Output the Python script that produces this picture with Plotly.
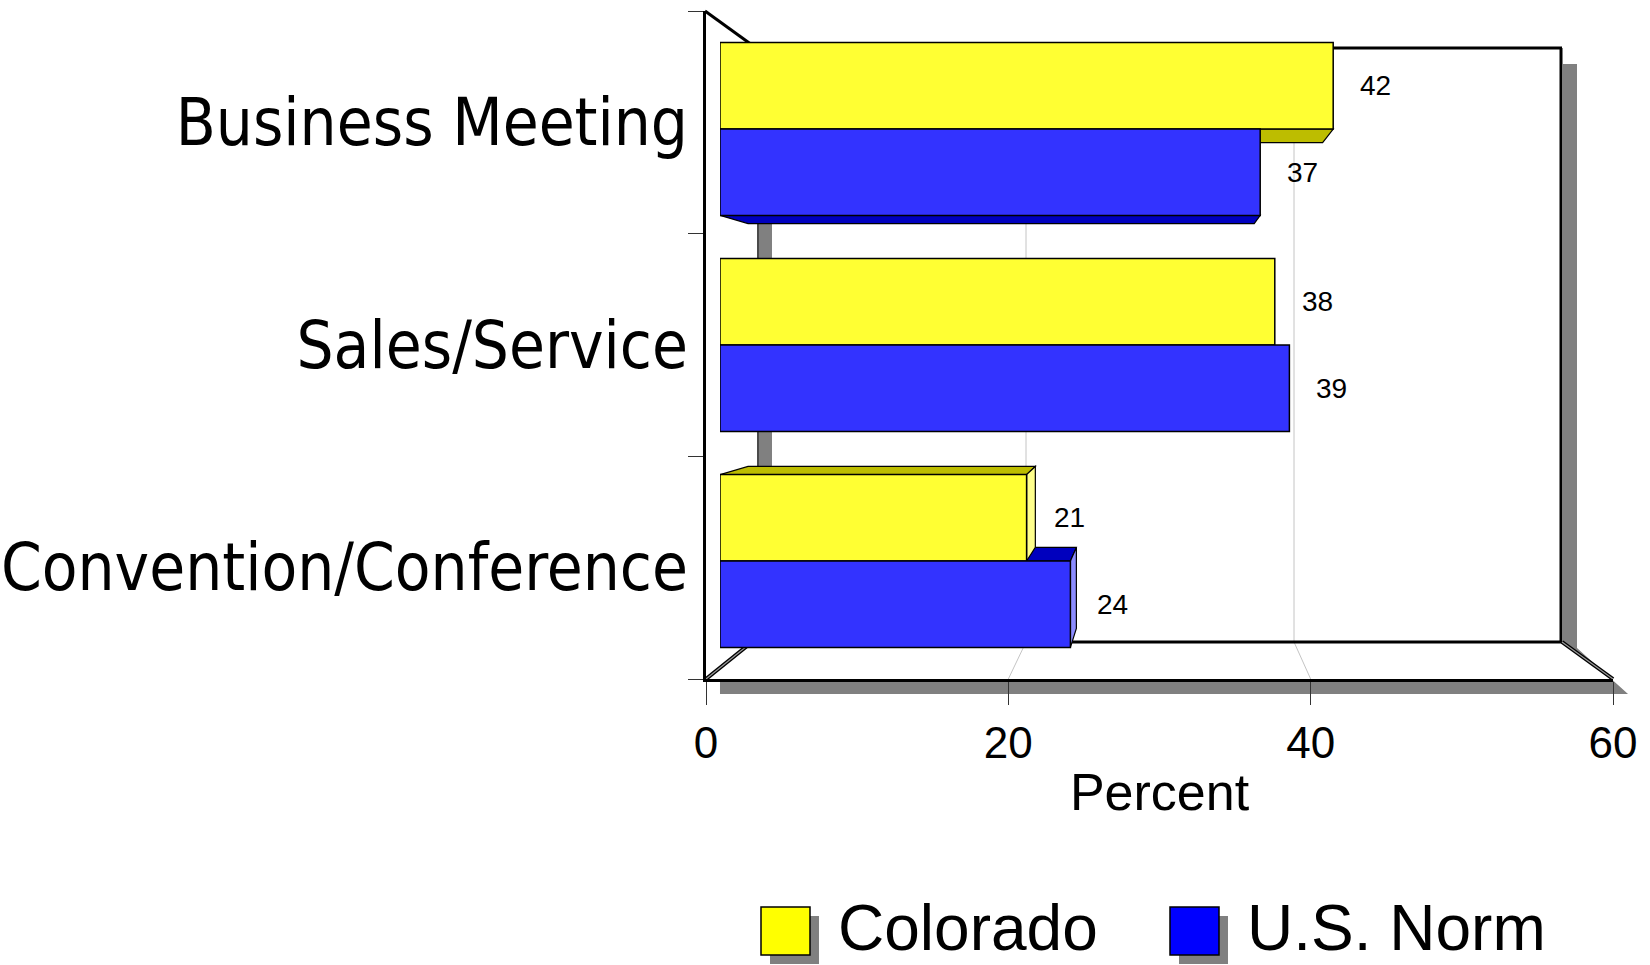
import plotly.graph_objects as go

# ---- data -------------------------------------------------------------
categories = ["Business Meeting", "Sales/Service", "Convention/Conference"]
colorado = [42, 38, 21]
us_norm = [37, 39, 24]
series_names = ["Colorado", "U.S. Norm"]
axis_ticks = [0, 20, 40, 60]
axis_title = "Percent"

# ---- page geometry (pixels) ------------------------------------------
W, H = 1650, 965


def px(x):
    return x / W


def py(y):
    return 1 - y / H


cat_pos = list(range(len(categories)))

# bar plane: value 0 at x=720, 14.6 px per unit; category rows 216 px apart
BAR_X0, BAR_SCALE = 720, 14.6
BAR_Y_TOP, BAR_Y_BOT = 21, 669
# front frame (axis plane) and back wall
FRONT_X0, FRONT_X60 = 706, 1613
BACK_X0, BACK_X60 = 758, 1562
FRONT_Y, BACK_TOP, BACK_BOTTOM = 679, 48, 642
FRONT_TOP = 11

# perspective for bar depth faces (data coordinates)
VP = (30.5, 1.0)
DEPTH = 0.063

YELLOW, YELLOW_DARK, YELLOW_LIGHT = "#FFFF33", "#BDBD00", "#FFFF8C"
BLUE, BLUE_DARK, BLUE_LIGHT = "#3333FF", "#0000BE", "#8C8CFF"
SHADOW = "#808080"
GRID = "#C4C4C4"

fig = go.Figure()

# front bar faces
fig.add_trace(go.Bar(
    y=cat_pos, x=colorado, orientation="h", width=0.4, offset=-0.4,
    name=series_names[0], showlegend=False,
    marker=dict(color=YELLOW, line=dict(color="black", width=1.5)),
    hoverinfo="x+name", xaxis="x", yaxis="y",
))
fig.add_trace(go.Bar(
    y=cat_pos, x=us_norm, orientation="h", width=0.4, offset=0.0,
    name=series_names[1], showlegend=False,
    marker=dict(color=BLUE, line=dict(color="black", width=1.5)),
    hoverinfo="x+name", xaxis="x", yaxis="y",
))
# carrier trace for the front frame axes
fig.add_trace(go.Scatter(
    x=[0, 60], y=[0, 3], mode="markers", marker=dict(opacity=0),
    hoverinfo="skip", showlegend=False, xaxis="x2", yaxis="y2",
))


def paper_line(x0, y0, x1, y1, color="black", width=3):
    fig.add_shape(type="line", xref="paper", yref="paper",
                  x0=px(x0), y0=py(y0), x1=px(x1), y1=py(y1),
                  line=dict(color=color, width=width), layer="below")


def paper_poly(points, fill, line_color=None, width=0, layer="below"):
    path = "M " + " L ".join(f"{px(x):.5f},{py(y):.5f}" for x, y in points) + " Z"
    fig.add_shape(type="path", xref="paper", yref="paper", path=path,
                  fillcolor=fill, line=dict(color=line_color or fill, width=width),
                  layer=layer)


def front_x(v):
    return FRONT_X0 + v * (FRONT_X60 - FRONT_X0) / 60


def back_x(v):
    return BACK_X0 + v * (BACK_X60 - BACK_X0) / 60


# drop shadow of the frame
paper_poly([(1563, 64), (1577, 64), (1577, 648), (1628, 694), (720, 694),
            (720, 681), (1613, 681), (1563, 643)], SHADOW)
# shadow of the side wall on the back wall
paper_poly([(757, 64), (772, 64), (772, BACK_BOTTOM), (757, BACK_BOTTOM)], SHADOW)
paper_line(758, 64, 758, BACK_BOTTOM, "#4a4a4a", 2)

# gridlines: up the back wall, then across the floor to the front tick
for v in axis_ticks[1:-1]:
    paper_line(back_x(v), BACK_TOP, back_x(v), BACK_BOTTOM, GRID, 1)
    paper_line(back_x(v), BACK_BOTTOM, front_x(v), FRONT_Y, GRID, 1)

# back wall and floor edges
paper_line(BACK_X0 - 6, BACK_TOP, BACK_X60, BACK_TOP, "black", 3)
paper_line(BACK_X60 - 1, BACK_TOP, BACK_X60 - 1, BACK_BOTTOM, "black", 3)
paper_line(BACK_X0 - 6, BACK_BOTTOM, BACK_X60, BACK_BOTTOM, "black", 3)
for (xa, ya, xb, yb) in [(BACK_X60, BACK_BOTTOM, FRONT_X60, FRONT_Y),
                         (FRONT_X0, FRONT_Y, BACK_X0 - 6, BACK_BOTTOM)]:
    paper_line(xa, ya, xb, yb, "black", 4)
    paper_line(xa, ya, xb, yb, "#9a9a9a", 1.2)
# side wall top edge
paper_line(FRONT_X0 - 1, FRONT_TOP, BACK_X0 - 6, BACK_TOP - 3, "black", 3)


# depth faces of the bars, projected toward the vanishing point
def back_pt(x, y):
    return (x + DEPTH * (VP[0] - x), y + DEPTH * (VP[1] - y))


def data_poly(points, fill):
    path = "M " + " L ".join(f"{x:.4f},{y:.4f}" for x, y in points) + " Z"
    fig.add_shape(type="path", xref="x", yref="y", path=path, fillcolor=fill,
                  line=dict(color="black", width=1.2), layer="below")


def bar_faces(value, y0, y1, dark, light):
    faces = []
    if VP[1] < y0:  # upper face
        faces.append(([(0, y0), (value, y0), back_pt(value, y0), back_pt(0, y0)], dark))
    if VP[1] > y1:  # lower face
        faces.append(([(0, y1), (value, y1), back_pt(value, y1), back_pt(0, y1)], dark))
    if VP[0] > value:  # end face
        faces.append(([(value, y0), (value, y1), back_pt(value, y1), back_pt(value, y0)], light))
    for pts, col in faces:
        data_poly(pts, col)


for c, v in zip(cat_pos, us_norm):
    bar_faces(v, c, c + 0.4, BLUE_DARK, BLUE_LIGHT)
for c, v in zip(cat_pos, colorado):
    bar_faces(v, c - 0.4, c, YELLOW_DARK, YELLOW_LIGHT)

# value labels
annotations = []
for c, v in zip(cat_pos, colorado):
    annotations.append(dict(x=v, y=c - 0.2, xref="x", yref="y", text=str(v),
                            showarrow=False, xanchor="left", xshift=25,
                            font=dict(size=28, color="black")))
for c, v in zip(cat_pos, us_norm):
    annotations.append(dict(x=v, y=c + 0.2, xref="x", yref="y", text=str(v),
                            showarrow=False, xanchor="left", xshift=25,
                            font=dict(size=28, color="black")))

# legend
legend_items = [(761, series_names[0], "#FFFF00"), (1170, series_names[1], "#0000FF")]
for x0, name, col in legend_items:
    paper_poly([(x0 + 9, 916), (x0 + 58, 916), (x0 + 58, 964), (x0 + 9, 964)], SHADOW, layer="above")
    paper_poly([(x0, 907), (x0 + 49, 907), (x0 + 49, 955), (x0, 955)], col, "black", 1.5, layer="above")
    annotations.append(dict(x=px(x0 + 76), y=0, xref="paper", yref="paper",
                            text=name, showarrow=False, xanchor="left", yanchor="bottom",
                            borderpad=0, font=dict(size=64, color="black")))

FONT = "Liberation Sans, Arial, sans-serif"
NARROW = "Liberation Sans Narrow, Arial Narrow, DejaVu Sans Condensed, sans-serif"

fig.update_layout(
    width=W, height=H, autosize=False,
    margin=dict(l=0, r=0, t=0, b=0, autoexpand=False),
    paper_bgcolor="white", plot_bgcolor="rgba(0,0,0,0)",
    barmode="overlay",
    font=dict(family=FONT, color="black"),
    showlegend=False,
    annotations=annotations,
    xaxis=dict(domain=[px(BAR_X0), px(BAR_X0 + 60 * BAR_SCALE)], range=[0, 60],
               visible=False, fixedrange=True, automargin=False),
    yaxis=dict(domain=[py(BAR_Y_BOT), py(BAR_Y_TOP)], range=[2.5, -0.5],
               visible=False, fixedrange=True, automargin=False),
    xaxis2=dict(domain=[px(FRONT_X0), px(FRONT_X60)], range=[0, 60], anchor="y2",
                tickmode="array", tickvals=axis_ticks, ticks="outside", ticklen=23,
                tickwidth=1, tickcolor="#333333", showline=True, linecolor="black",
                linewidth=3, showgrid=False, zeroline=False, automargin=False,
                tickfont=dict(size=44, family=FONT, color="black"),
                title=dict(text=axis_title, font=dict(size=52, family=FONT, color="black"),
                           standoff=8),
                fixedrange=True),
    yaxis2=dict(domain=[py(FRONT_Y), py(FRONT_TOP)], range=[3, 0], anchor="x2",
                tickmode="array", tickvals=[p + 0.5 for p in cat_pos], ticktext=categories,
                ticks="", showline=True, linecolor="black", linewidth=3,
                showgrid=False, zeroline=False, automargin=False,
                minor=dict(tickmode="array", tickvals=[0, 1, 2, 3], ticks="outside",
                           ticklen=15, tickwidth=1, tickcolor="#333333", showgrid=False),
                ticklabelstandoff=2,
                tickfont=dict(size=65, family=NARROW, color="black"),
                fixedrange=True),
)

fig.write_html("out.html")
